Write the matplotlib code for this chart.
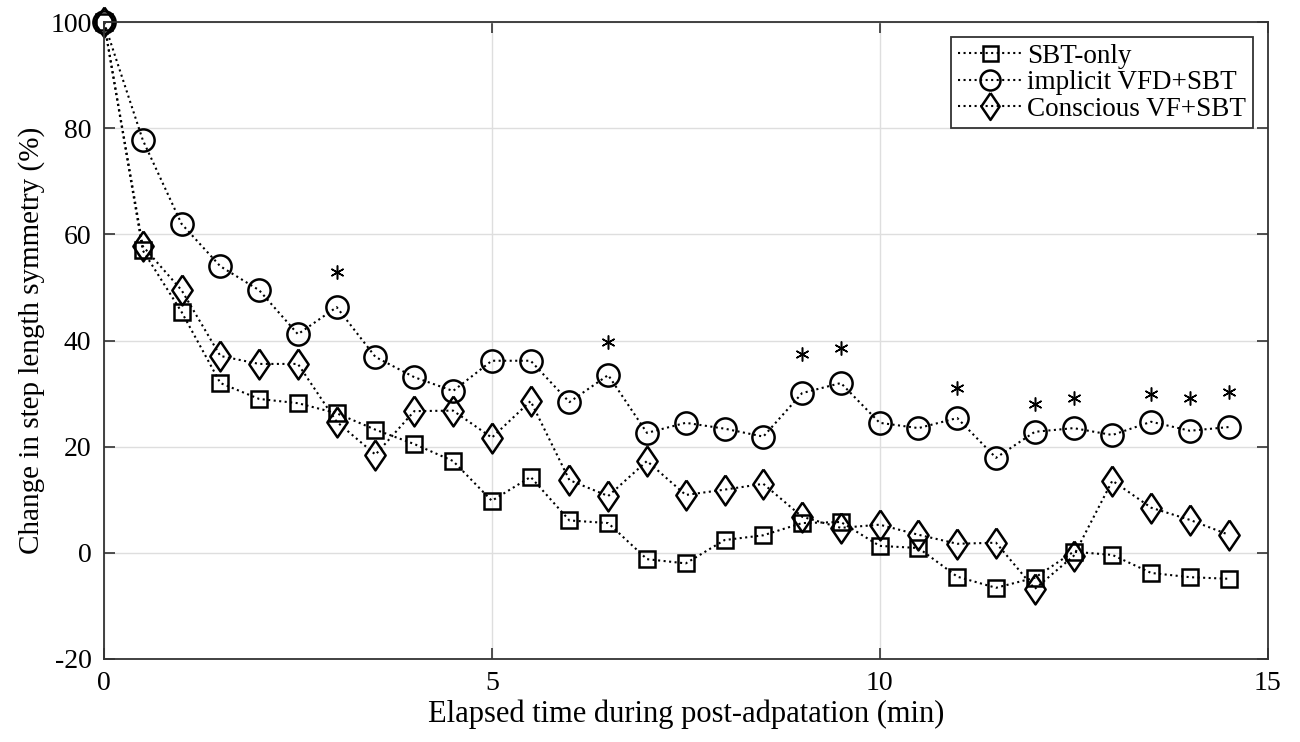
import numpy as np
import matplotlib.pyplot as plt

# temps (min)
temps = np.arange(0, 15, 0.5)

# Changement de symétrie de la longueur de pas (%)
sbt_only = [100, 57, 45.4, 32, 29, 28.2, 26.3, 23.2, 20.5, 17.3,
            9.8, 14.3, 6.1, 5.6, -1.2, -2, 2.4, 3.3, 5.6, 5.8,
            1.3, 0.9, -4.5, -6.6, -4.7, 0.2, -0.4, -3.8, -4.6, -4.9]
implicit_vfd = [100, 77.8, 62, 54, 49.5, 41.2, 46.3, 36.9, 33.1, 30.5,
                36.2, 36.2, 28.4, 33.5, 22.6, 24.5, 23.4, 21.9, 30.1, 32,
                24.5, 23.5, 25.4, 17.9, 22.8, 23.5, 22.2, 24.7, 23, 23.7]
conscious_vf = [100, 57.8, 49.5, 37.1, 35.6, 35.6, 24.7, 18.5, 26.7, 26.8,
                21.7, 28.6, 13.7, 10.7, 17.3, 10.9, 11.9, 13, 6.8, 4.7,
                5.3, 3.4, 1.7, 1.9, -6.8, -0.6, 13.6, 8.5, 6.2, 3.4]

# astérisques (différence significative)
etoiles_x = [3, 6.5, 9, 9.5, 11, 12, 12.5, 13.5, 14, 14.5]
etoiles_y = [53, 39.7, 37.5, 38.6, 31, 28, 29.2, 30, 29.2, 30.3]

plt.rcParams['font.family'] = ['Liberation Serif', 'DejaVu Serif']
plt.rcParams['axes.unicode_minus'] = False

fig, ax = plt.subplots(figsize=(13, 7.42), dpi=100)
fig.subplots_adjust(left=0.08, right=0.975, top=0.97, bottom=0.112)

# losange un peu plus large que le 'd' de matplotlib
losange = [(0, 1), (0.68, 0), (0, -1), (-0.68, 0), (0, 1)]

style = dict(color='black', linestyle=':', linewidth=1.5, markerfacecolor='none',
             markeredgecolor='black', markeredgewidth=1.8, clip_on=False)
ax.plot(temps, sbt_only, marker='s', markersize=12, label='SBT-only', **style)
ax.plot(temps, implicit_vfd, marker='o', markersize=16, label='implicit VFD+SBT', **style)
ax.plot(temps, conscious_vf, marker=losange, markersize=21.5, label='Conscious VF+SBT', **style)

ax.plot(etoiles_x, etoiles_y, linestyle='none', marker=(6, 2, 0), markersize=10,
        markeredgecolor='black', markeredgewidth=1.1)

ax.set_xlim(0, 15)
ax.set_ylim(-20, 100)
ax.set_xticks([0, 5, 10, 15])
ax.set_yticks(range(-20, 101, 20))
ax.grid(True, color='#dedede', linewidth=1)
ax.set_axisbelow(True)
ax.tick_params(direction='in', top=True, right=True, labelsize=20, length=8,
               width=1.2, color='#333333', pad=9)
for s in ax.spines.values():
    s.set_linewidth(1.3)
    s.set_color('#333333')

ax.set_xlabel('Elapsed time during post-adpatation (min)', fontsize=22, labelpad=2)
ax.set_ylabel('Change in step length symmetry (%)', fontsize=21, labelpad=4)

leg = ax.legend(loc='upper right', fontsize=19.5, fancybox=False, edgecolor='#333333',
                handlelength=2.4, borderpad=0.25, labelspacing=0.05, handletextpad=0.15,
                borderaxespad=0.55, markerscale=0.9, framealpha=1)
leg.get_frame().set_linewidth(1.3)

plt.savefig('out.png')
